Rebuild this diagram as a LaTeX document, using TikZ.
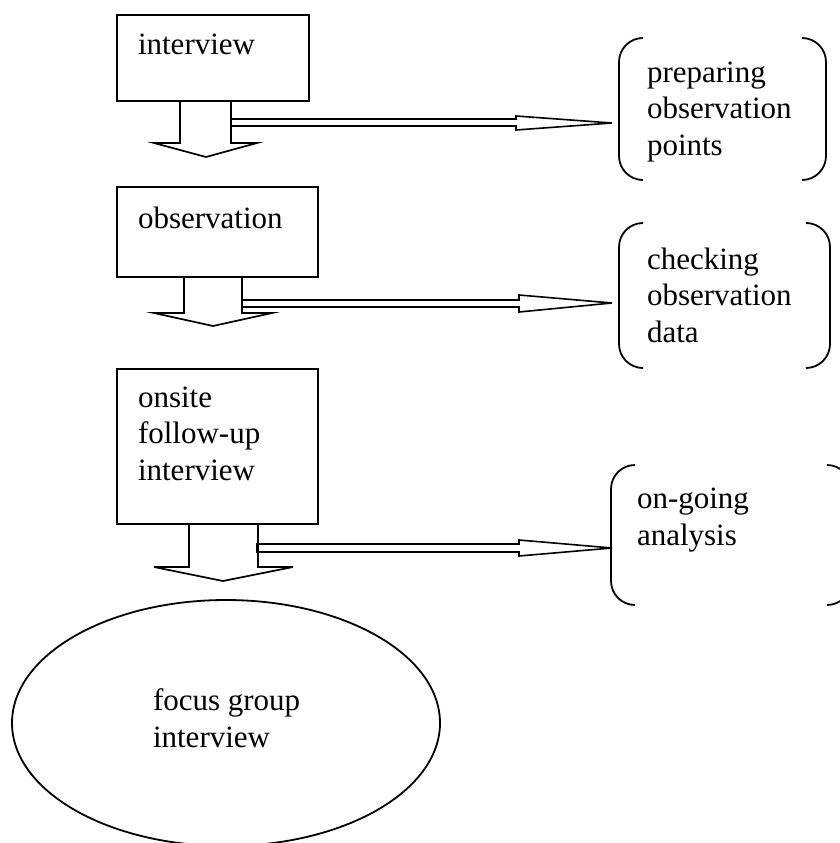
\documentclass[tikz,border=0pt]{standalone}
\usepackage{fontspec}
\setmainfont{Liberation Serif}
\usetikzlibrary{shapes.geometric}
\begin{document}
\begin{tikzpicture}[x=1pt,y=-1pt,
  box/.style={draw, line width=1.8pt, inner sep=0pt, outer sep=0pt, anchor=north west},
  brk/.style={inner sep=0pt, outer sep=0pt, anchor=north west},
  brkline/.style={line width=1.8pt, rounded corners=24pt},
  txt/.style={font=\fontsize{31}{36.5}\selectfont, inner sep=0pt, outer sep=0pt, anchor=base west, align=left},
  fat/.style={draw, line width=1.7pt, line join=miter},
  hol/.style={draw, line width=1.6pt, line join=miter}]
\clip (0,0) rectangle (840,843);
\useasboundingbox (0,0) rectangle (840,843);
% boxes
\node[box, minimum width=192pt, minimum height=86pt] (b1) at (117,15) {};
\node[box, minimum width=201pt, minimum height=90pt] (b2) at (117,187) {};
\node[box, minimum width=201pt, minimum height=155pt] (b3) at (117,369) {};
\node[draw, ellipse, line width=1.8pt, inner sep=0pt, minimum width=428pt, minimum height=246pt] (fg) at (226,723) {};
% bracket frames
\node[brk, minimum width=207pt, minimum height=142pt] (p1) at (619,38) {};
\node[brk, minimum width=211pt, minimum height=145pt] (p2) at (619,223) {};
\node[brk, minimum width=240pt, minimum height=140pt] (p3) at (611,465) {};
\foreach \p in {p1,p2,p3}{
  \draw[brkline] ([xshift=24pt]\p.north west) -- (\p.north west) -- (\p.south west) -- ([xshift=24pt]\p.south west);
  \draw[brkline] ([xshift=-24pt]\p.north east) -- (\p.north east) -- (\p.south east) -- ([xshift=-24pt]\p.south east);
}
% texts (anchor = baseline of last line)
\node[txt] (t1) at (138,55) {interview};
\node[txt] (t2) at (138,228) {observation};
\node[txt] (t3) at (138,480) {onsite\\follow-up\\interview};
\node[txt] (t4) at (647,155) {preparing\\observation\\points};
\node[txt] (t5) at (647,342) {checking\\observation\\data};
\node[txt] (t6) at (637,545) {on-going\\analysis};
\node[txt] (t7) at (153,747) {focus group\\interview};
% fat down arrows
\draw[fat] ([xshift=63pt]b1.south west) -- ++(0,42) -- ++(-26,0) -- ++(52,14) -- ++(51,-14) -- ++(-26,0) -- ++(0,-42);
\draw[fat] ([xshift=67pt]b2.south west) -- ++(0,36) -- ++(-30,0) -- ++(59,13) -- ++(59,-13) -- ++(-30,0) -- ++(0,-36);
\draw[fat] ([xshift=72pt]b3.south west) -- ++(0,43) -- ++(-35,0) -- ++(69,14) -- ++(70,-14) -- ++(-35,0) -- ++(0,-43);
% hollow side arrows
\coordinate (h1) at (612,123);
\coordinate (h2) at (612,303);
\coordinate (h3) at (612,548);
\draw[hol] (231,119) -- (516,119) -- (516,116) -- (h1) -- (516,130) -- (516,126) -- (231,126) -- cycle;
\draw[hol] (242,300) -- (519,300) -- (519,295) -- (h2) -- (519,312) -- (519,307) -- (242,307) -- cycle;
\draw[hol] (257,544) -- (519,544) -- (519,540) -- (h3) -- (519,556) -- (519,552) -- (257,552) -- cycle;
\end{tikzpicture}
\end{document}
